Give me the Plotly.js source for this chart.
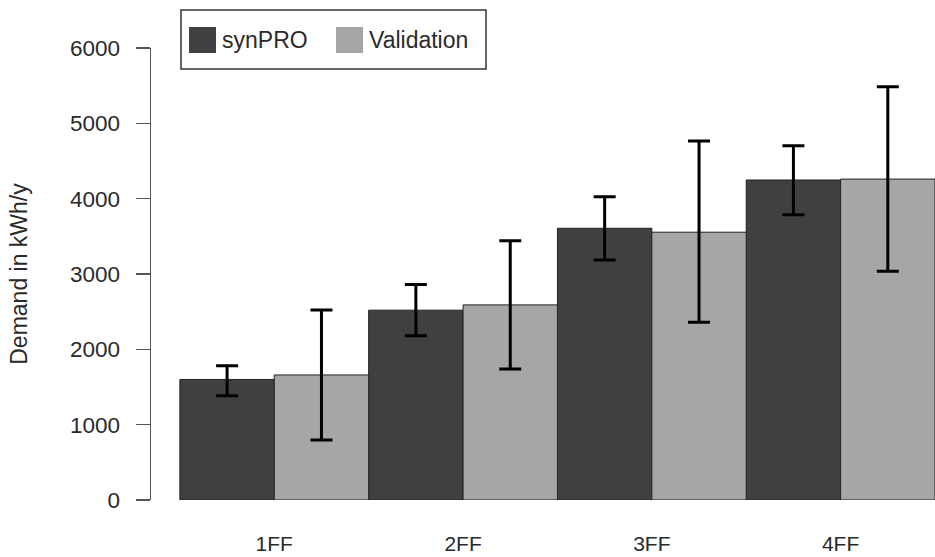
<!DOCTYPE html>
<html>
<head>
<meta charset="utf-8">
<script src="https://cdn.plot.ly/plotly-3.0.1.min.js"></script>
<style>html,body{margin:0;padding:0;background:#fff;}#chart{width:935px;height:557px;}</style>
</head>
<body>
<div id="chart"></div>
<script>
// ---- data ----
const categories = ["1FF", "2FF", "3FF", "4FF"];
const seriesNames = ["synPRO", "Validation"];
const synproMean  = [1600, 2520, 3607, 4248];
const synproUpper = [1783, 2859, 4027, 4703];
const synproLower = [1385, 2181, 3186, 3787];
const validMean   = [1660, 2590, 3555, 4260];
const validUpper  = [2522, 3442, 4766, 5487];
const validLower  = [ 797, 1739, 2359, 3036];
const yTickVals   = [0, 1000, 2000, 3000, 4000, 5000, 6000];

const FONT = "Liberation Sans, Arial, Helvetica, sans-serif";
const TXT = "#2a2a2a";
const colors = ["#404040", "#a6a6a6"];

function errs(mean, up, lo) {
  return {
    type: "data", symmetric: false,
    array: up.map((v, i) => v - mean[i]),
    arrayminus: mean.map((v, i) => v - lo[i]),
    color: "#000", thickness: 3, width: 11
  };
}

const traces = [
  { type: "bar", name: seriesNames[0], x: categories, y: synproMean,
    marker: { color: colors[0], line: { color: "#222", width: 1 } },
    error_y: errs(synproMean, synproUpper, synproLower), showlegend: false },
  { type: "bar", name: seriesNames[1], x: categories, y: validMean,
    marker: { color: colors[1], line: { color: "#222", width: 1 } },
    error_y: errs(validMean, validUpper, validLower), showlegend: false }
];

// plot area in pixels: x 151..935, y 48..500
const L = 151, R = 935, T = 48, B = 500;
const px = x => (x - L) / (R - L);
const py = y => (B - y) / (B - T);

const shapes = [
  { type: "rect", xref: "paper", yref: "paper", x0: px(181), x1: px(486), y0: py(69), y1: py(10),
    line: { color: "#333", width: 1.5 }, fillcolor: "rgba(0,0,0,0)" },
  { type: "rect", xref: "paper", yref: "paper", x0: px(189), x1: px(216), y0: py(53), y1: py(27),
    line: { width: 0 }, fillcolor: colors[0] },
  { type: "rect", xref: "paper", yref: "paper", x0: px(336), x1: px(363), y0: py(53), y1: py(27),
    line: { width: 0 }, fillcolor: colors[1] }
];
const annotations = [
  { xref: "paper", yref: "paper", x: px(220), y: py(40), xanchor: "left", yanchor: "middle",
    text: seriesNames[0], showarrow: false, font: { family: FONT, size: 23, color: TXT } },
  { xref: "paper", yref: "paper", x: px(367), y: py(40), xanchor: "left", yanchor: "middle",
    text: seriesNames[1], showarrow: false, font: { family: FONT, size: 23, color: TXT } }
];

const layout = {
  width: 935, height: 557,
  margin: { l: L, r: 935 - R, t: T, b: 557 - B, pad: 0 },
  paper_bgcolor: "#fff", plot_bgcolor: "#fff",
  barmode: "group", bargap: 0, bargroupgap: 0,
  showlegend: false,
  font: { family: FONT, size: 21, color: TXT },
  xaxis: {
    type: "category", range: [-0.653, 3.5],
    showline: false, showgrid: false, zeroline: false, ticks: "",
    ticklabelstandoff: 29,
    tickfont: { family: FONT, size: 21, color: TXT }
  },
  yaxis: {
    range: [0, 6000], tickvals: yTickVals, ticktext: yTickVals.map(String),
    showline: true, linecolor: "#555", linewidth: 1.5,
    ticks: "outside", ticklen: 14, tickwidth: 1.5, tickcolor: "#555",
    ticklabelstandoff: 11,
    showgrid: false, zeroline: false,
    tickfont: { family: FONT, size: 22.5, color: TXT },
    title: { text: "Demand in kWh/y", standoff: 36, font: { family: FONT, size: 23, color: TXT } }
  },
  shapes: shapes,
  annotations: annotations
};

Plotly.newPlot("chart", traces, layout, { displayModeBar: false, staticPlot: true });
</script>
</body>
</html>
